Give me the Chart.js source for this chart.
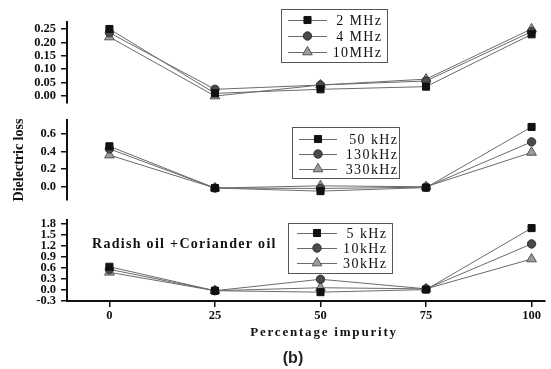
<!DOCTYPE html>
<html>
<head>
<meta charset="utf-8">
<script src="https://cdn.jsdelivr.net/npm/chart.js"></script>
<style>
  html, body { margin: 0; padding: 0; background: #fff; }
  #wrap { position: relative; width: 551px; height: 369px; overflow: hidden; background: #fff; }
  #wrap canvas { position: absolute; left: 0; top: 0; }
</style>
</head>
<body>
<div id="wrap">
  <canvas id="panelTop" width="551" height="369"></canvas>
  <canvas id="panelMid" width="551" height="369"></canvas>
  <canvas id="panelBot" width="551" height="369"></canvas>
</div>
<script>
// Percentage of coriander oil mixed into radish oil
const impurity = [0, 25, 50, 75, 100];

// Dielectric loss, MHz range
const labelsMHz = ['2 MHz', '4 MHz', '10MHz'];
const loss2MHz  = [0.250, 0.010, 0.025, 0.035, 0.230];
const loss4MHz  = [0.236, 0.025, 0.041, 0.056, 0.240];
const loss10MHz = [0.220, 0.000, 0.041, 0.063, 0.250];

// Dielectric loss, 50-330 kHz
const labelsMidKHz = [' 50 kHz', '130kHz', '330kHz'];
const loss50kHz  = [0.46, -0.015, -0.05, -0.01, 0.68];
const loss130kHz = [0.43, -0.015, -0.02, -0.005, 0.51];
const loss330kHz = [0.36, -0.015,  0.01,  0.00, 0.39];

// Dielectric loss, 5-30 kHz
const labelsLowKHz = ['  5 kHz', '10kHz', '30kHz'];
const loss5kHz  = [0.63, -0.02, -0.06, 0.01, 1.68];
const loss10kHz = [0.56, -0.02,  0.29, 0.03, 1.25];
const loss30kHz = [0.48, -0.02,  0.06, 0.03, 0.84];

// Axis ticks
const xTicks = [0, 25, 50, 75, 100];
const yTicksTop = [0, 0.05, 0.10, 0.15, 0.20, 0.25];
const yTicksMid = [0, 0.2, 0.4, 0.6];
const yTicksBot = [-0.3, 0, 0.3, 0.6, 0.9, 1.2, 1.5, 1.8];

const SERIF = "'Liberation Serif', 'Times New Roman', serif";
const SANS = "'Liberation Sans', Arial, sans-serif";
const INK = '#111';
const LINE = '#6b6b6b';

const markerStyles = [
  { pointStyle: 'rect',     radius: 5,   fill: '#111',    stroke: '#111' },
  { pointStyle: 'circle',   radius: 4.2, fill: '#4a4a4a', stroke: '#333' },
  { pointStyle: 'triangle', radius: 5.6, fill: '#9c9c9c', stroke: '#555' }
];

function drawMarker(ctx, st, x, y) {
  ctx.save();
  ctx.fillStyle = st.fill;
  ctx.strokeStyle = st.stroke;
  ctx.lineWidth = 1;
  if (Chart.helpers && Chart.helpers.drawPoint) {
    Chart.helpers.drawPoint(ctx, { pointStyle: st.pointStyle, radius: st.radius, borderWidth: 1, rotation: 0 }, x, y);
  } else {
    ctx.beginPath();
    const r = st.radius;
    if (st.pointStyle === 'rect') {
      const s = r * Math.SQRT1_2;
      ctx.rect(x - s, y - s, 2 * s, 2 * s);
    } else if (st.pointStyle === 'circle') {
      ctx.arc(x, y, r, 0, Math.PI * 2);
    } else {
      ctx.moveTo(x, y - r);
      ctx.lineTo(x + r * 0.866, y + r * 0.5);
      ctx.lineTo(x - r * 0.866, y + r * 0.5);
      ctx.closePath();
    }
    ctx.fill();
    ctx.stroke();
  }
  ctx.restore();
}

// Boxed legend with line-and-marker samples
function boxLegend(cfg) {
  return {
    id: 'boxLegend',
    afterDatasetsDraw(chart) {
      const ctx = chart.ctx;
      ctx.save();
      ctx.fillStyle = '#fff';
      ctx.fillRect(cfg.x, cfg.y, cfg.w, cfg.h);
      ctx.strokeStyle = '#555';
      ctx.lineWidth = 1;
      ctx.strokeRect(cfg.x + 0.5, cfg.y + 0.5, cfg.w, cfg.h);
      chart.data.datasets.forEach((ds, i) => {
        const y = cfg.rows[i];
        ctx.strokeStyle = LINE;
        ctx.lineWidth = 1;
        ctx.beginPath();
        ctx.moveTo(cfg.lineFrom, y + 0.5);
        ctx.lineTo(cfg.lineTo, y + 0.5);
        ctx.stroke();
        drawMarker(ctx, markerStyles[i], (cfg.lineFrom + cfg.lineTo) / 2, y);
        ctx.fillStyle = INK;
        ctx.font = '14px ' + SERIF;
        ctx.textAlign = 'right';
        ctx.textBaseline = 'middle';
        ctx.letterSpacing = '1.4px';
        ctx.fillText(ds.label, cfg.textRight + 1.4, y + 1);
        ctx.letterSpacing = '0px';
      });
      ctx.restore();
    }
  };
}

// Free text placed on the canvas (notes, axis title, caption)
function canvasTexts(items) {
  return {
    id: 'canvasTexts',
    afterDraw(chart) {
      const ctx = chart.ctx;
      items.forEach(t => {
        ctx.save();
        ctx.font = t.font;
        ctx.fillStyle = t.color || INK;
        ctx.textAlign = t.align || 'left';
        ctx.textBaseline = 'middle';
        ctx.letterSpacing = (t.spacing || 0) + 'px';
        ctx.fillText(t.text, t.x, t.y);
        ctx.restore();
      });
    }
  };
}

function series(labels, valueSets) {
  return valueSets.map((vals, i) => ({
    label: labels[i],
    data: impurity.map((x, j) => ({ x: x, y: vals[j] })),
    borderColor: LINE,
    borderWidth: 1,
    pointStyle: markerStyles[i].pointStyle,
    pointRadius: markerStyles[i].radius,
    pointBackgroundColor: markerStyles[i].fill,
    pointBorderColor: markerStyles[i].stroke,
    pointBorderWidth: 1,
    fill: false,
    tension: 0
  }));
}

function makePanel(id, p) {
  const tickFont = { family: SERIF, size: 12.5, weight: 'bold' };
  return new Chart(document.getElementById(id), {
    type: 'line',
    data: { datasets: series(p.labels, p.values) },
    options: {
      responsive: false,
      animation: false,
      devicePixelRatio: 1,
      layout: { padding: { left: 0, right: 0, top: p.top, bottom: p.showX ? 0 : 369 - p.bottom } },
      plugins: { legend: { display: false }, tooltip: { enabled: false } },
      scales: {
        x: {
          type: 'linear',
          min: -10.05,
          max: 103.04,
          display: p.showX,
          afterBuildTicks: s => { s.ticks = xTicks.map(v => ({ value: v })); },
          afterFit: s => { if (p.showX) s.height = 369 - p.bottom; },
          grid: { display: true, drawOnChartArea: false, drawTicks: true, tickLength: 6, color: INK, lineWidth: 1.5 },
          border: { display: true, color: INK, width: 2 },
          ticks: { font: tickFont, color: INK, padding: 1, maxRotation: 0, autoSkip: false, callback: v => String(v) }
        },
        y: {
          min: p.yMin,
          max: p.yMax,
          afterBuildTicks: s => { s.ticks = p.yTicks.map(v => ({ value: v })); },
          afterFit: s => { s.width = 67; },
          grid: { display: true, drawOnChartArea: false, drawTicks: true, tickLength: 6, color: INK, lineWidth: 1.5 },
          border: { display: true, color: INK, width: 2 },
          ticks: { font: tickFont, color: INK, padding: 5, autoSkip: false, callback: v => Number(v).toFixed(p.decimals) },
          title: p.yTitle ? {
            display: true, text: p.yTitle, color: INK,
            font: { family: SERIF, size: 14, weight: 'bold' },
            padding: { top: 11, bottom: 0 }
          } : { display: false }
        }
      }
    },
    plugins: [boxLegend(p.legend), canvasTexts(p.texts || [])]
  });
}

makePanel('panelTop', {
  labels: labelsMHz,
  values: [loss2MHz, loss4MHz, loss10MHz],
  top: 22, bottom: 103, showX: false,
  yMin: -0.026, yMax: 0.276, yTicks: yTicksTop, decimals: 2,
  legend: { x: 281, y: 9, w: 106, h: 53, rows: [20, 36, 52], lineFrom: 288, lineTo: 327, textRight: 381 }
});

makePanel('panelMid', {
  labels: labelsMidKHz,
  values: [loss50kHz, loss130kHz, loss330kHz],
  top: 120, bottom: 200, showX: false,
  yMin: -0.151, yMax: 0.759, yTicks: yTicksMid, decimals: 1,
  yTitle: 'Dielectric loss',
  legend: { x: 292, y: 127, w: 107, h: 51, rows: [139, 154, 169], lineFrom: 299, lineTo: 337, textRight: 397 }
});

makePanel('panelBot', {
  labels: labelsLowKHz,
  values: [loss5kHz, loss10kHz, loss30kHz],
  top: 220, bottom: 301, showX: true,
  yMin: -0.3, yMax: 1.9, yTicks: yTicksBot, decimals: 1,
  legend: { x: 288, y: 223, w: 104, h: 50, rows: [233, 248, 263], lineFrom: 297, lineTo: 337, textRight: 386 },
  texts: [
    { text: 'Radish oil +Coriander oil', x: 92, y: 244, font: 'bold 14px ' + SERIF, spacing: 1.3 },
    { text: 'Percentage impurity', x: 324, y: 333, font: 'bold 13px ' + SERIF, spacing: 1.8, align: 'center' },
    { text: '(b)', x: 293, y: 359, font: 'bold 16px ' + SANS, align: 'center', color: '#222' }
  ]
});
</script>
</body>
</html>
